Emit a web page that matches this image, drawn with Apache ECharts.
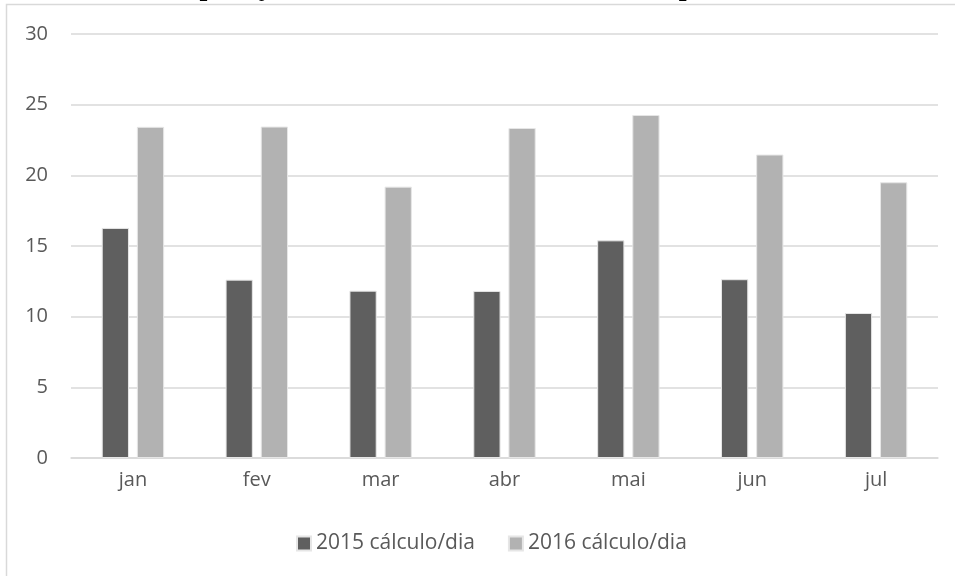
<!DOCTYPE html>
<html>
<head>
<meta charset="utf-8">
<script src="https://cdn.jsdelivr.net/npm/echarts@6/dist/echarts.min.js"></script>
<style>
html,body{margin:0;padding:0;background:#fff;}
#c{width:955px;height:576px;}
</style>
</head>
<body>
<div id="c"></div>
<script>
const categories = ['jan','fev','mar','abr','mai','jun','jul'];
const values2015 = [16.28, 12.62, 11.84, 11.82, 15.40, 12.65, 10.26];
const values2016 = [23.43, 23.45, 19.20, 23.35, 24.27, 21.47, 19.51];
const seriesNames = ['2015 cálculo/dia', '2016 cálculo/dia'];
const titleText = 'Comparação da média diária de 2015 e 2016 por mês';

const font = '"Open Sans", "Noto Sans", sans-serif';
const chart = echarts.init(document.getElementById('c'), null, {renderer:'canvas'});
chart.setOption({
  backgroundColor:'#fff',
  animation:false,
  title:{
    text:titleText, left:137, top:-31, z:200,
    textStyle:{fontFamily:'"Liberation Serif", serif', fontWeight:'bold', fontSize:28, color:'#000'}
  },
  graphic:[{
    type:'rect', shape:{x:6.5,y:4.5,width:1000,height:700},
    style:{fill:'none', stroke:'#d9d9d9', lineWidth:1.5}, z:-1
  }],
  grid:{left:71, right:17, top:34, bottom:118, containLabel:false},
  legend:{
    top:528, left:291, itemWidth:14, itemHeight:14, itemGap:33,
    icon:'rect',
    textStyle:{fontFamily:font, fontSize:21, color:'#595959'},
    data:seriesNames
  },
  xAxis:{
    type:'category', data:categories,
    axisLine:{lineStyle:{color:'#d9d9d9', width:1.5}},
    axisTick:{show:false},
    axisLabel:{fontFamily:font, fontSize:20, color:'#595959', margin:12}
  },
  yAxis:{
    type:'value', min:0, max:30, interval:5,
    axisLine:{show:false}, axisTick:{show:false},
    splitLine:{lineStyle:{color:'#d9d9d9', width:1.5}},
    axisLabel:{fontFamily:font, fontSize:20, color:'#595959', margin:23}
  },
  series:[
    {name:seriesNames[0], type:'bar', data:values2015, barWidth:'22%', barGap:'29%',
     itemStyle:{color:'#5f5f5f', borderColor:'#e6e6e6', borderWidth:1}},
    {name:seriesNames[1], type:'bar', data:values2016, barWidth:'22%', barGap:'29%',
     itemStyle:{color:'#b2b2b2', borderColor:'#e6e6e6', borderWidth:1}}
  ]
});
</script>
</body>
</html>
